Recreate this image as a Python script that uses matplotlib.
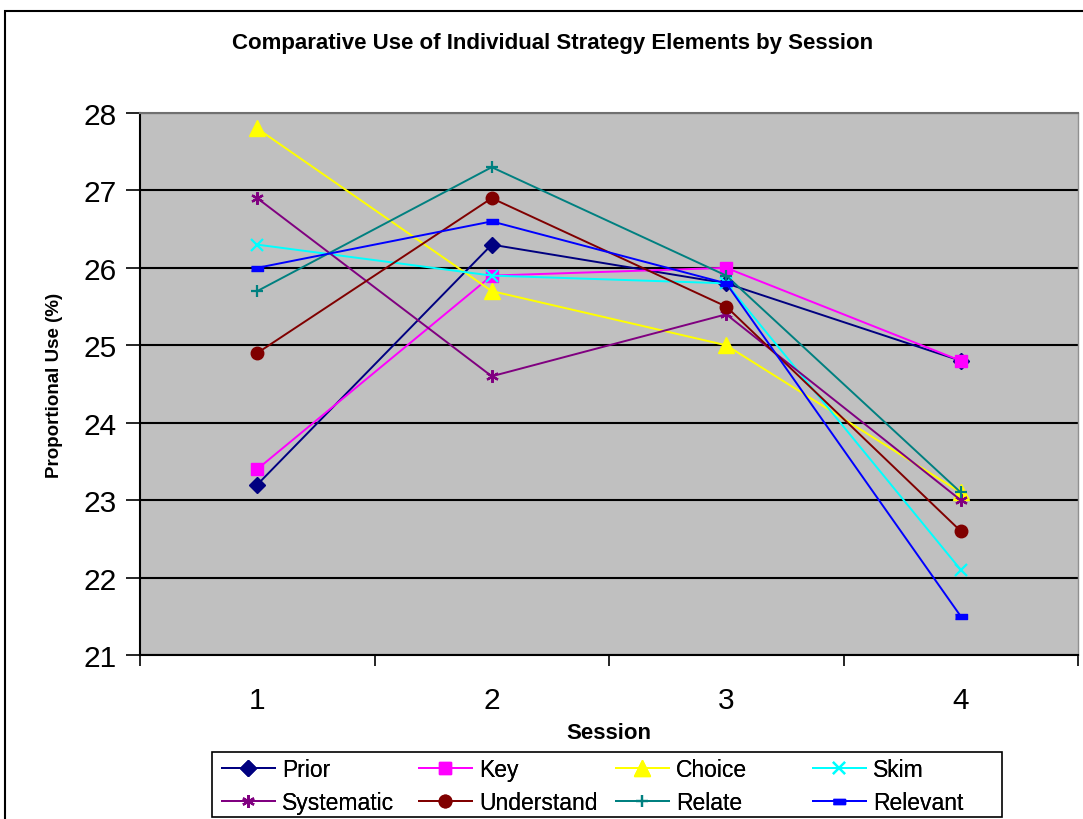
import matplotlib.pyplot as plt
from matplotlib.patches import Rectangle

plt.rcParams['font.family'] = ['Liberation Sans', 'DejaVu Sans']

sessions = [1, 2, 3, 4]
session_labels = ['1', '2', '3', '4']

prior = [23.2, 26.3, 25.8, 24.8]
key = [23.4, 25.9, 26.0, 24.8]
choice = [27.8, 25.7, 25.0, 23.1]
skim = [26.3, 25.9, 25.8, 22.1]
systematic = [26.9, 24.6, 25.4, 23.0]
understand = [24.9, 26.9, 25.5, 22.6]
relate = [25.7, 27.3, 25.9, 23.1]
relevant = [26.0, 26.6, 25.8, 21.5]

dash = [(-1, -0.45), (1, -0.45), (1, 0.45), (-1, 0.45)]

series = [
    ('Prior', prior, '#000080', 'D', 8),
    ('Key', key, '#FF00FF', 's', 9),
    ('Choice', choice, '#FFFF00', '^', 11),
    ('Skim', skim, '#00FFFF', 'x', 8),
    ('Systematic', systematic, '#800080', (6, 2, 0), 9),
    ('Understand', understand, '#800000', 'o', 9),
    ('Relate', relate, '#008080', '+', 9),
    ('Relevant', relevant, '#0000FF', dash, 8),
]

fig = plt.figure(figsize=(10.83, 8.2), dpi=100)
ax = fig.add_axes([140 / 1083, 1 - 656 / 820, 938 / 1083, 542 / 820])
ax.set_facecolor('#C0C0C0')

lines = {}
for name, vals, col, mk, ms in series:
    ln, = ax.plot(sessions, vals, color=col, marker=mk, markersize=ms, lw=1.4,
                  markeredgewidth=1.6 if mk in ('x', '+') or isinstance(mk, tuple) else 1,
                  markerfacecolor=col, markeredgecolor=col, label=name)
    lines[name] = ln

ax.set_xlim(0.5, 4.5)
ax.set_ylim(21, 28)
ax.set_yticks(range(21, 29))
ax.set_xticks(sessions)
ax.set_xticklabels(session_labels)
ax.set_xticks([0.5, 1.5, 2.5, 3.5, 4.5], minor=True)
ax.tick_params(axis='x', which='major', length=0, labelsize=21.5, pad=22)
ax.tick_params(axis='x', which='minor', length=8, direction='out', width=1.2)
ax.tick_params(axis='y', length=10, direction='out', width=1.2, labelsize=21.5, pad=7)
ax.yaxis.grid(True, color='black', lw=1.5)
ax.set_axisbelow(True)

ax.spines['left'].set_color('black')
ax.spines['bottom'].set_color('black')
ax.spines['top'].set_color('#707070')
ax.spines['right'].set_color('#909090')
for s in ax.spines.values():
    s.set_linewidth(1.5)
ax.spines['right'].set_linewidth(1.0)

ax.set_xlabel('Session', fontsize=16, fontweight='bold', labelpad=6)
ax.set_ylabel('Proportional Use (%)', fontsize=13.5, fontweight='bold')
ax.yaxis.set_label_coords(-77 / 938, 0.5)

fig.text(0.51, 1 - 44 / 820, 'Comparative Use of Individual Strategy Elements by Session',
         ha='center', va='center', fontsize=16, fontweight='bold')

# legend: 4 equal columns, 2 rows (row order like the original)
legend_cols = [['Prior', 'Systematic'], ['Key', 'Understand'],
               ['Choice', 'Relate'], ['Skim', 'Relevant']]
col_x = [222, 419, 616, 813]
for names, x0 in zip(legend_cols, col_x):
    lg = fig.legend([lines[n] for n in names], names, loc='center left',
                    bbox_to_anchor=(x0 / 1083, 1 - 787 / 820), frameon=False,
                    fontsize=16.5, handlelength=2.3, handletextpad=0.33,
                    borderpad=0, borderaxespad=0, labelspacing=0.42)
    fig.add_artist(lg)

fig.patches.append(Rectangle((212 / 1083, 2 / 820), 790 / 1083, 65 / 820,
                             transform=fig.transFigure, fill=False,
                             edgecolor='black', lw=1.2))

fig.patches.append(Rectangle((5 / 1083, -0.05), 1.1, 1 - 12 / 820 + 0.05,
                             transform=fig.transFigure, fill=False,
                             edgecolor='black', lw=1.5))

fig.savefig('out.png', dpi=100)
